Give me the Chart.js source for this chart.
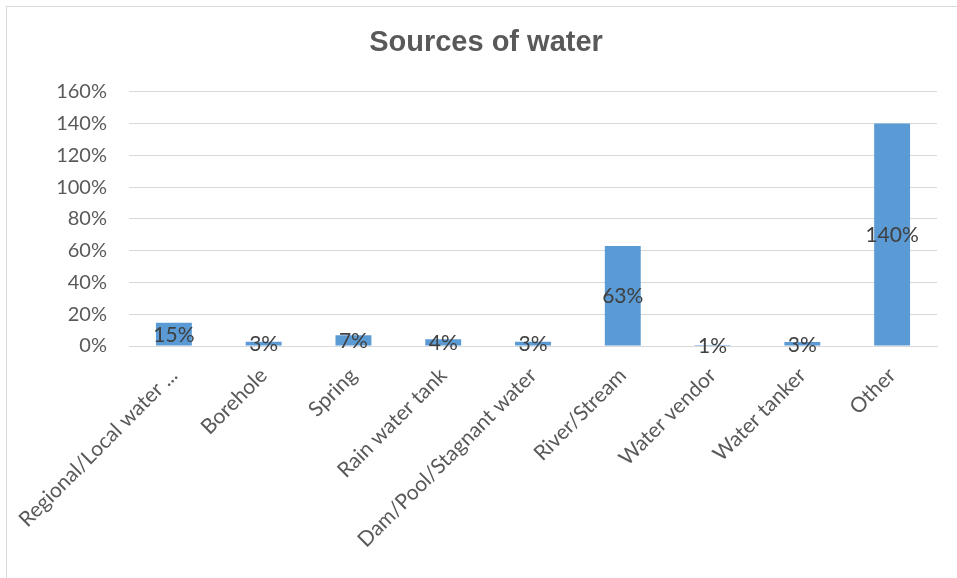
<!DOCTYPE html>
<html>
<head>
<meta charset="utf-8">
<script src="https://cdn.jsdelivr.net/npm/chart.js@4"></script>
<style>
  html, body { margin: 0; padding: 0; background: #fff; }
  .frame { position: absolute; left: 6px; top: 6px; width: 951px; height: 572px;
    border-left: 1px solid #d9d9d9; border-top: 1px solid #d9d9d9; }
  canvas { position: absolute; left: 0; top: 0; }
</style>
</head>
<body>
<div class="frame"></div>
<canvas id="myChart" width="957" height="578"></canvas>
<script>
const categories = ['Regional/Local water ...', 'Borehole', 'Spring', 'Rain water tank',
  'Dam/Pool/Stagnant water', 'River/Stream', 'Water vendor', 'Water tanker', 'Other'];
const shares = [14.7, 2.6, 6.7, 4.2, 2.6, 63, 0.6, 2.5, 140];
const yTicks = [0, 20, 40, 60, 80, 100, 120, 140, 160];

const textGrey = '#595959';
const fontName = 'Lato, "Liberation Sans", sans-serif';

// labels in the middle of each bar, like excel "center"
const barLabels = {
  id: 'barLabels',
  afterDatasetsDraw(chart) {
    const ctx = chart.ctx;
    const meta = chart.getDatasetMeta(0);
    ctx.save();
    ctx.font = '21px ' + fontName;
    ctx.fillStyle = '#404040';
    ctx.textAlign = 'center';
    ctx.textBaseline = 'middle';
    meta.data.forEach(function (bar, i) {
      const mid = (bar.y + bar.base) / 2;
      ctx.fillText(Math.round(shares[i]) + '%', bar.x, mid + 1);
    });
    ctx.restore();
  },
};

const ctx = document.getElementById('myChart');

// eslint-disable-next-line no-undef
var chart = new Chart(ctx, { // eslint-disable-line no-unused-vars
  type: 'bar',
  data: {
    labels: categories,
    datasets: [{
      label: 'Sources of water',
      backgroundColor: '#5b9bd5',
      data: shares,
      barPercentage: 0.4,
      categoryPercentage: 1,
    }],
  },
  plugins: [barLabels],
  options: {
    responsive: false,
    animation: false,
    layout: { padding: { top: 0, right: 20, bottom: 0, left: 35 } },
    plugins: {
      legend: { display: false },
      tooltip: { enabled: false },
      title: {
        display: true,
        text: 'Sources of water',
        color: textGrey,
        font: { family: '"Liberation Sans", Arial, sans-serif', size: 29, weight: 'bold' },
        padding: { top: 26, bottom: 31 },
      },
    },
    scales: {
      x: {
        grid: { display: false },
        border: { color: '#d9d9d9' },
        ticks: {
          color: textGrey,
          font: { family: fontName, size: 21 },
          minRotation: 45,
          maxRotation: 45,
          autoSkip: false,
          padding: 9,
        },
        afterFit(scale) { scale.height = 232; },
      },
      y: {
        min: 0,
        max: 160,
        border: { display: false },
        grid: { color: '#d9d9d9', drawTicks: false },
        afterBuildTicks(scale) { scale.ticks = yTicks.map(v => ({ value: v })); },
        ticks: {
          color: textGrey,
          font: { family: fontName, size: 20 },
          padding: 22,
          callback: (v) => v + '%',
        },
        afterFit(scale) { scale.width = 94; },
      },
    },
  },
});
</script>
</body>
</html>
